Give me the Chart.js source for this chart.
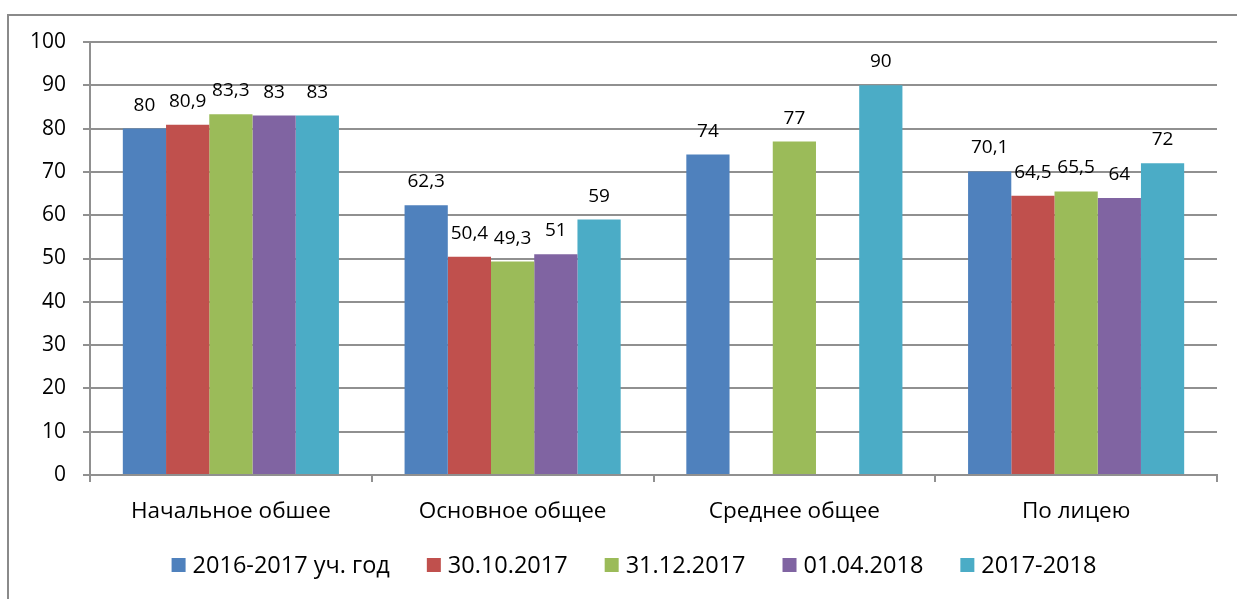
<!DOCTYPE html>
<html>
<head>
<meta charset="utf-8">
<script src="https://cdn.jsdelivr.net/npm/chart.js@4.4.0/dist/chart.umd.min.js"></script>
<style>
    html, body { margin: 0; padding: 0; background: #fff; overflow: hidden; }
    #frame {
        position: absolute; left: 7px; top: 14px; width: 1300px; height: 700px;
        border: 2px solid #8a8a8a; box-sizing: border-box;
    }
    #wrap { position: absolute; left: 0; top: 0; width: 1237px; height: 599px; }
</style>
</head>
<body>
<div id="frame"></div>
<div id="wrap"><canvas id="chart" width="1237" height="599"></canvas></div>
<script>
const categories = ["Начальное обшее", "Основное общее", "Среднее общее", "По лицею"];
const seriesNames = ["2016-2017 уч. год", "30.10.2017", "31.12.2017", "01.04.2018", "2017-2018"];
const s2016_2017 = [80, 62.3, 74, 70.1];
const s30_10_2017 = [80.9, 50.4, null, 64.5];
const s31_12_2017 = [83.3, 49.3, 77, 65.5];
const s01_04_2018 = [83, 51, null, 64];
const s2017_2018 = [83, 59, 90, 72];
const yTicks = [0, 10, 20, 30, 40, 50, 60, 70, 80, 90, 100];

const colors = ["#4F81BD", "#C0504D", "#9BBB59", "#8064A2", "#4BACC6"];
const values = [s2016_2017, s30_10_2017, s31_12_2017, s01_04_2018, s2017_2018];
const gridColor = "#909090";
const FONT = "'Open Sans', sans-serif";

// value labels above the bars, comma as decimal separator
const barLabels = {
    id: "barLabels",
    afterDatasetsDraw(chart) {
        const ctx = chart.ctx;
        ctx.save();
        ctx.font = "19px " + FONT;
        ctx.fillStyle = "#000";
        ctx.textAlign = "center";
        ctx.textBaseline = "alphabetic";
        chart.data.datasets.forEach((ds, i) => {
            const meta = chart.getDatasetMeta(i);
            meta.data.forEach((bar, j) => {
                const v = ds.data[j];
                if (v === null || v === undefined) return;
                ctx.fillText(String(v).replace(".", ","), bar.x, bar.y - 18);
            });
        });
        ctx.restore();
    }
};

// legend in one row, centred on the frame (which runs past the right edge)
const rowLegend = {
    id: "rowLegend",
    afterDraw(chart) {
        const ctx = chart.ctx;
        const box = 14, gap = 7, itemGap = 37, cx = 634, cy = 565;
        ctx.save();
        ctx.font = "23.5px " + FONT;
        ctx.textBaseline = "middle";
        ctx.textAlign = "left";
        const items = chart.data.datasets.map(ds => ({
            text: ds.label,
            color: ds.backgroundColor,
            w: box + gap + ctx.measureText(ds.label).width
        }));
        const total = items.reduce((a, it) => a + it.w, 0) + itemGap * (items.length - 1);
        let x = cx - total / 2;
        items.forEach(it => {
            ctx.fillStyle = it.color;
            ctx.fillRect(x, cy - box / 2, box, box);
            ctx.fillStyle = "#000";
            ctx.fillText(it.text, x + box + gap, cy + 1);
            x += it.w + itemGap;
        });
        ctx.restore();
    }
};

const datasets = seriesNames.map((name, i) => ({
    label: name,
    data: values[i],
    backgroundColor: colors[i],
    borderWidth: 0
}));

new Chart(document.getElementById("chart"), {
    type: "bar",
    data: { labels: categories, datasets: datasets },
    options: {
        responsive: false,
        animation: false,
        categoryPercentage: 0.767,
        barPercentage: 1,
        layout: { padding: { left: 0, right: 20, top: 42, bottom: 57 } },
        plugins: {
            legend: { display: false },
            tooltip: { enabled: false }
        },
        scales: {
            x: {
                grid: {
                    display: true,
                    drawOnChartArea: false,
                    drawTicks: true,
                    tickLength: 7,
                    color: gridColor,
                    lineWidth: 2
                },
                border: { color: gridColor, width: 2 },
                ticks: { color: "#000", padding: 16, font: { family: FONT, size: 22.5 } },
                afterFit(scale) { scale.height = 67; }
            },
            y: {
                min: 0,
                max: 100,
                afterBuildTicks(scale) { scale.ticks = yTicks.map(v => ({ value: v })); },
                grid: { color: gridColor, lineWidth: 2, tickLength: 7 },
                border: { color: gridColor, width: 2 },
                ticks: { color: "#000", padding: 17, font: { family: FONT, size: 21 } },
                afterFit(scale) { scale.width = 90; }
            }
        }
    },
    plugins: [barLabels, rowLegend]
});
</script>
</body>
</html>
